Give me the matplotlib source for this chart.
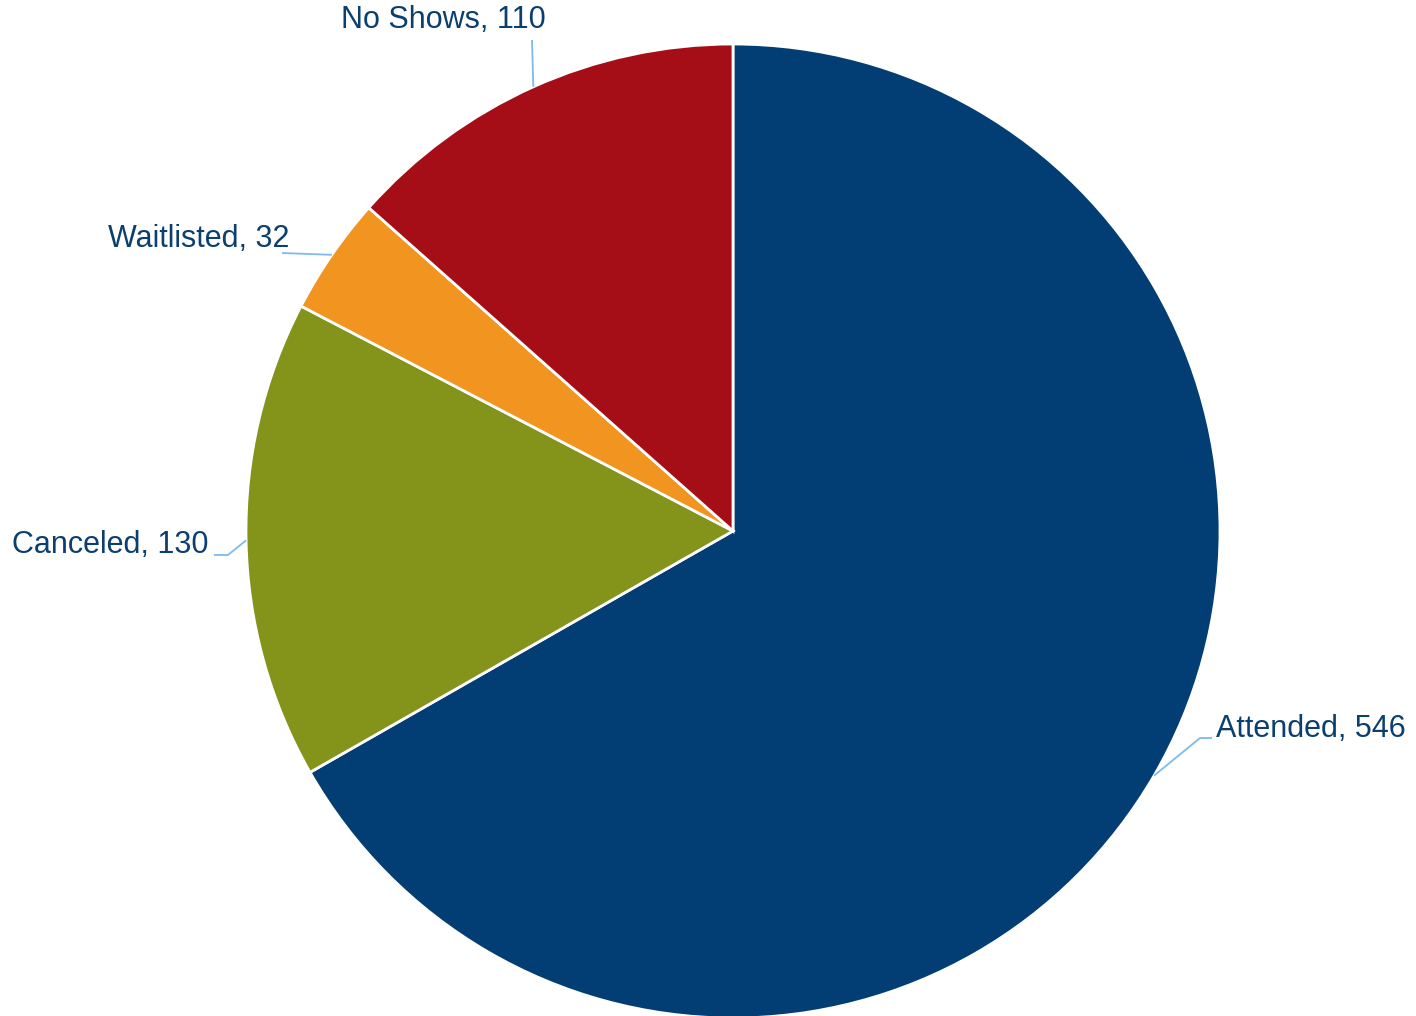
import matplotlib
matplotlib.use("Agg")
import matplotlib.pyplot as plt
import numpy as np

categories = ["Attended", "Canceled", "Waitlisted", "No Shows"]
values = [546, 130, 32, 110]
colors = ["#023E73", "#84931A", "#F19420", "#A50E16"]

W, H = 1416, 1016
CX, CY, R = 733, 531, 487  # pie centre / radius in pixels

fig = plt.figure(figsize=(W / 100, H / 100), dpi=100)
ax = fig.add_axes([0, 0, 1, 1])

wedges, _ = ax.pie(values, colors=colors, startangle=90, counterclock=False,
                   radius=1.0, center=(0, 0),
                   wedgeprops=dict(edgecolor="white", linewidth=2.0))

ax.set_xlim(-CX / R, (W - CX) / R)
ax.set_ylim((CY - H) / R, CY / R)
ax.set_aspect("equal", adjustable="box")
ax.set_autoscale_on(False)
ax.axis("off")

def px(x, y):
    return ((x - CX) / R, (CY - y) / R)

text_color = "#0B3F70"
line_color = "#7DBAF0"
font = ["Liberation Sans", "DejaVu Sans"]

# label layout: (line points px, text anchor px, ha)
layout = {
    "Attended": ([(1200, 738), (1212, 738)], (1216, 729), "left"),
    "Canceled": ([(228, 555), (214, 555)], (209, 545), "right"),
    "Waitlisted": ([(282, 253)], (289, 239), "right"),
    "No Shows": ([(532, 40)], (443, 20), "center"),
}

total = sum(values)
start = 90.0
for cat, val in zip(categories, values):
    span = val / total * 360.0
    mid = np.deg2rad(start - span / 2)
    start -= span
    anchor = (np.cos(mid), np.sin(mid))
    pts, tpos, ha = layout[cat]
    xs = [anchor[0]] + [px(*p)[0] for p in pts]
    ys = [anchor[1]] + [px(*p)[1] for p in pts]
    ax.plot(xs, ys, color=line_color, lw=1.3, solid_capstyle="butt")
    tx, ty = px(*tpos)
    ax.text(tx, ty, f"{cat}, {val}", ha=ha, va="center", color=text_color,
            fontsize=22, family=font)

fig.savefig("out.png", dpi=100)
